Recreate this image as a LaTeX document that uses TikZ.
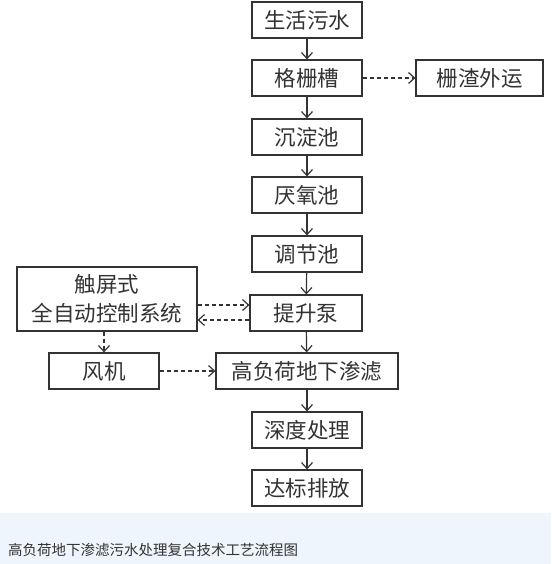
\documentclass[tikz,border=0pt]{standalone}
\usepackage{fontspec}
\newfontfamily\cjk{Noto Sans CJK SC}
\usetikzlibrary{arrows.meta}
\definecolor{band}{HTML}{EEF5FC}
\definecolor{ink}{HTML}{333333}
\begin{document}
\begin{tikzpicture}[x=1pt, y=1pt,
    box/.style={draw=ink, line width=1.2pt, minimum height=36pt, inner sep=0pt,
        text=ink, font=\cjk\fontsize{21.5}{29}\selectfont},
    flow/.style={->, draw=ink, line width=1.2pt},
    dflow/.style={flow, dash pattern=on 4pt off 3pt},
    >={Straight Barb[length=6pt, width=11pt]}]
        \useasboundingbox (0,0) rectangle (551,-564);
        \fill[band] (0,-513) rectangle (551,-564);

        \node[box, minimum width=110pt] (sewage) at (307,-20) {生活污水};
        \node[box, minimum width=110pt] (screen) at (307,-78) {格栅槽};
        \node[box, minimum width=127pt] (residue) at (479.5,-78) {栅渣外运};
        \node[box, minimum width=110pt] (settle) at (307,-137) {沉淀池};
        \node[box, minimum width=110pt] (anaerobic) at (307,-195) {厌氧池};
        \node[box, minimum width=110pt] (balance) at (307,-254) {调节池};
        \node[box, minimum width=112pt] (pump) at (306,-313) {提升泵};
        \node[box, minimum width=180pt, minimum height=64pt, align=center] (control) at (107,-299) {触屏式\\全自动控制系统};
        \node[box, minimum width=110pt] (fan) at (104,-371) {风机};
        \node[box, minimum width=182pt] (filter) at (307,-371) {高负荷地下渗滤};
        \node[box, minimum width=110pt] (deep) at (307,-430) {深度处理};
        \node[box, minimum width=110pt] (discharge) at (307,-488) {达标排放};

        \draw[flow] (sewage) -- (screen);
        \draw[flow] (screen) -- (settle);
        \draw[flow] (settle) -- (anaerobic);
        \draw[flow] (anaerobic) -- (balance);
        \draw[flow] (balance) -- (pump);
        \draw[flow] (pump) -- (filter);
        \draw[flow] (filter) -- (deep);
        \draw[flow] (deep) -- (discharge);
        \draw[dflow] (screen) -- (residue);
        \draw[dflow] ([yshift=-6pt]control.east) -- ([yshift=8pt]pump.west);
        \draw[dflow] ([yshift=-7pt]pump.west) -- ([yshift=-21pt]control.east);
        \draw[dflow] (fan.north |- control.south) -- (fan.north);
        \draw[dflow] (fan) -- (filter);

        \node[anchor=west, inner sep=0pt, text=ink, font=\cjk\fontsize{14.5}{16}\selectfont] (caption) at (8,-550) {高负荷地下渗滤污水处理复合技术工艺流程图};
\end{tikzpicture}
\end{document}
